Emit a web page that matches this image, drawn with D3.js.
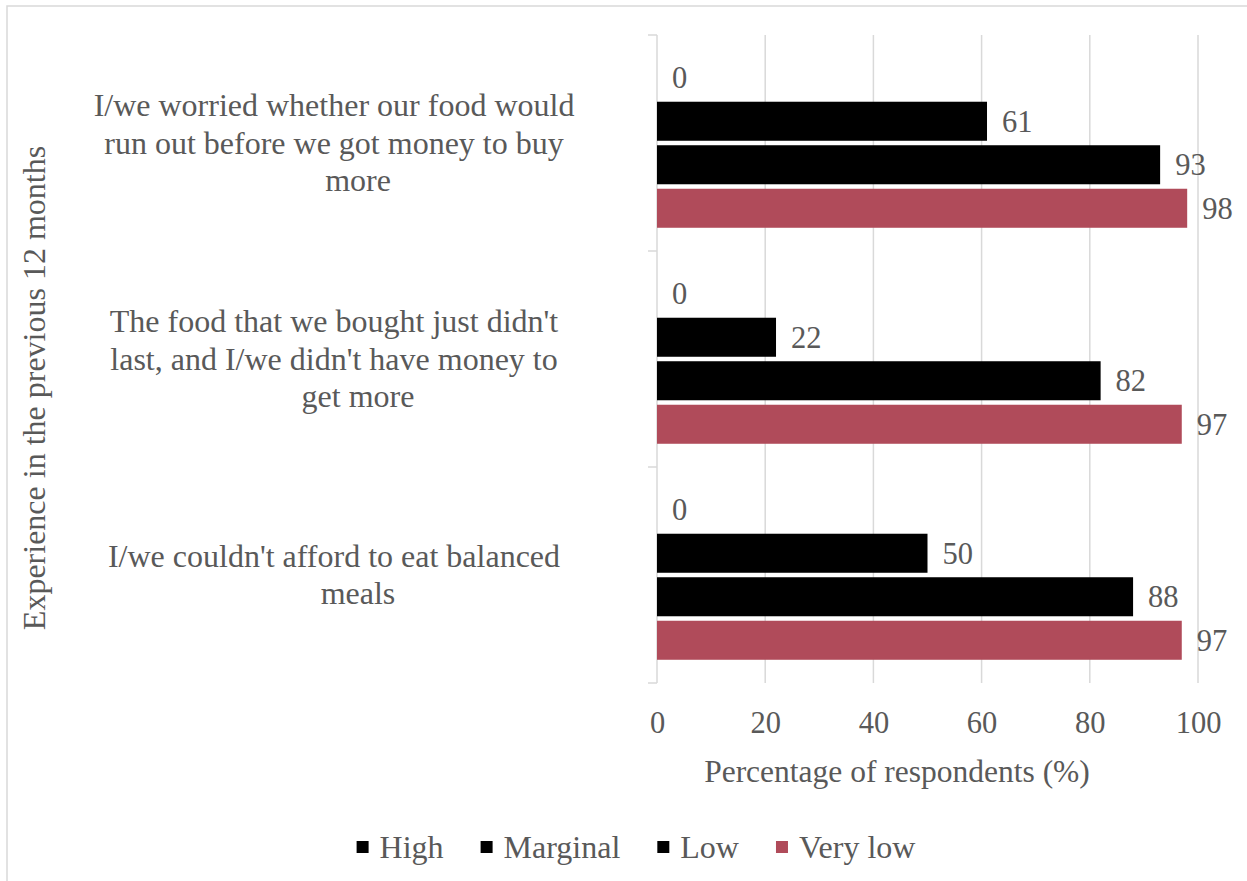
<!DOCTYPE html>
<html>
<head>
<meta charset="utf-8">
<script src="https://cdn.jsdelivr.net/npm/d3@7"></script>
<style>
  html, body { margin: 0; padding: 0; background: #ffffff; }
  svg { display: block; }
  text { font-family: "Liberation Serif", "Times New Roman", serif; fill: #595959; }
</style>
</head>
<body>
<svg id="chart" width="1247" height="881"></svg>
<script>
// Survey items (top to bottom), each split into its wrapped lines
const categories = [
  "I/we worried whether our food would run out before we got money to buy more",
  "The food that we bought just didn't last, and I/we didn't have money to get more",
  "I/we couldn't afford to eat balanced meals"
];
const categoryLines = [
  ["I/we worried whether our food would", "run out before we got money to buy", "more"],
  ["The food that we bought just didn't", "last, and I/we didn't have money to", "get more"],
  ["I/we couldn't afford to eat balanced", "meals"]
];

// Food security levels
const seriesNames = ["High", "Marginal", "Low", "Very low"];
const seriesColors = ["#000000", "#000000", "#000000", "#b04b5a"];

// Percentage of respondents per level, in category order
const highValues     = [0, 0, 0];
const marginalValues = [61, 22, 50];
const lowValues      = [93, 82, 88];
const veryLowValues  = [98, 97, 97];

const xTicks = [0, 20, 40, 60, 80, 100];
const xTitle = "Percentage of respondents (%)";
const yTitle = "Experience in the previous 12 months";

const seriesValues = [highValues, marginalValues, lowValues, veryLowValues];
const rows = categories.map((c, i) => ({
  category: c,
  values: seriesNames.map((s, j) => ({ series: s, value: seriesValues[j][i], color: seriesColors[j] }))
}));

const svg = d3.select("#chart");
const W = 1247, H = 881;
const plot = { left: 657, right: 1198, top: 35, bottom: 683 };

// outer frame
svg.append("rect")
  .attr("x", 7).attr("y", 6)
  .attr("width", W + 20).attr("height", H + 20)
  .attr("fill", "none").attr("stroke", "#d9d9d9").attr("stroke-width", 1.5);

const x = d3.scaleLinear().domain([0, 100]).range([plot.left, plot.right]);
const y = d3.scaleBand().domain(categories).range([plot.top, plot.bottom]).paddingInner(0).paddingOuter(0);
const ySub = d3.scaleBand().domain(seriesNames).range([0, y.bandwidth()]).paddingInner(0.103).paddingOuter(0.534);

// vertical gridlines
svg.append("g").selectAll("line")
  .data(xTicks.filter(t => t > 0))
  .join("line")
  .attr("x1", d => x(d)).attr("x2", d => x(d))
  .attr("y1", plot.top).attr("y2", plot.bottom)
  .attr("stroke", "#d9d9d9").attr("stroke-width", 1.5);

// category axis with tick marks between groups
const yAxisG = svg.append("g").attr("transform", `translate(${plot.left},0)`);
yAxisG.append("line")
  .attr("x1", 0).attr("x2", 0).attr("y1", plot.top).attr("y2", plot.bottom)
  .attr("stroke", "#d9d9d9").attr("stroke-width", 1.5);
const boundaries = categories.map(c => y(c)).concat([plot.bottom]);
yAxisG.selectAll("line.tick")
  .data(boundaries)
  .join("line")
  .attr("class", "tick")
  .attr("x1", -9).attr("x2", 0)
  .attr("y1", d => d).attr("y2", d => d)
  .attr("stroke", "#d9d9d9").attr("stroke-width", 1.5);

// category labels
const labelCenterX = 334;
const lineGap = 37.5;
categories.forEach((c, i) => {
  const lines = categoryLines[i];
  const cy = y(c) + y.bandwidth() / 2;
  const t = svg.append("text")
    .attr("font-size", 32)
    .attr("text-anchor", "middle");
  lines.forEach((ln, k) => {
    const isLast = k === lines.length - 1 && lines.length > 1;
    t.append("tspan")
      .attr("x", labelCenterX + (isLast ? 24 : 0))
      .attr("y", cy + (k - (lines.length - 1) / 2) * lineGap)
      .attr("dy", "0.33em")
      .text(ln);
  });
});

// bars
const groups = svg.append("g").selectAll("g")
  .data(rows)
  .join("g")
  .attr("transform", d => `translate(0,${y(d.category)})`);

groups.selectAll("rect")
  .data(d => d.values)
  .join("rect")
  .attr("x", x(0))
  .attr("y", d => ySub(d.series))
  .attr("width", d => x(d.value) - x(0))
  .attr("height", ySub.bandwidth())
  .attr("fill", d => d.color);

// value labels
groups.selectAll("text")
  .data(d => d.values)
  .join("text")
  .attr("x", d => x(d.value) + 15)
  .attr("y", d => ySub(d.series) + ySub.bandwidth() / 2)
  .attr("dy", "0.35em")
  .attr("font-size", 30.5)
  .text(d => d.value);

// x axis tick labels
const xAxis = d3.axisBottom(x).tickValues(xTicks).tickSize(0).tickPadding(0).tickFormat(d3.format("d"));
const xAxisG = svg.append("g").attr("transform", `translate(0,${plot.bottom})`).call(xAxis);
xAxisG.select(".domain").remove();
xAxisG.selectAll("text")
  .attr("y", 50)
  .attr("dy", 0)
  .attr("font-size", 30.5)
  .attr("font-family", null)
  .attr("fill", "#595959");

// axis titles
svg.append("text")
  .attr("x", 897).attr("y", 782)
  .attr("text-anchor", "middle")
  .attr("font-size", 31.5)
  .text(xTitle);

svg.append("text")
  .attr("transform", "translate(45,388) rotate(-90)")
  .attr("text-anchor", "middle")
  .attr("font-size", 32)
  .text(yTitle);

// legend
const legend = svg.append("g");
const items = legend.selectAll("g")
  .data(seriesNames.map((s, i) => ({ name: s, color: seriesColors[i] })))
  .join("g");
items.append("rect")
  .attr("width", 12).attr("height", 12)
  .attr("y", -6)
  .attr("fill", d => d.color);
items.append("text")
  .attr("x", 23)
  .attr("dy", "0.35em")
  .attr("font-size", 32)
  .text(d => d.name);
let offset = 0;
const widths = [];
items.each(function () {
  const w = 23 + this.querySelector("text").getComputedTextLength();
  widths.push(w);
});
const itemGap = 37;
const total = d3.sum(widths) + itemGap * (widths.length - 1);
const startX = 636 - total / 2;
items.attr("transform", (d, i) => {
  const tx = startX + offset;
  offset += widths[i] + itemGap;
  return `translate(${tx},847)`;
});
</script>
</body>
</html>
